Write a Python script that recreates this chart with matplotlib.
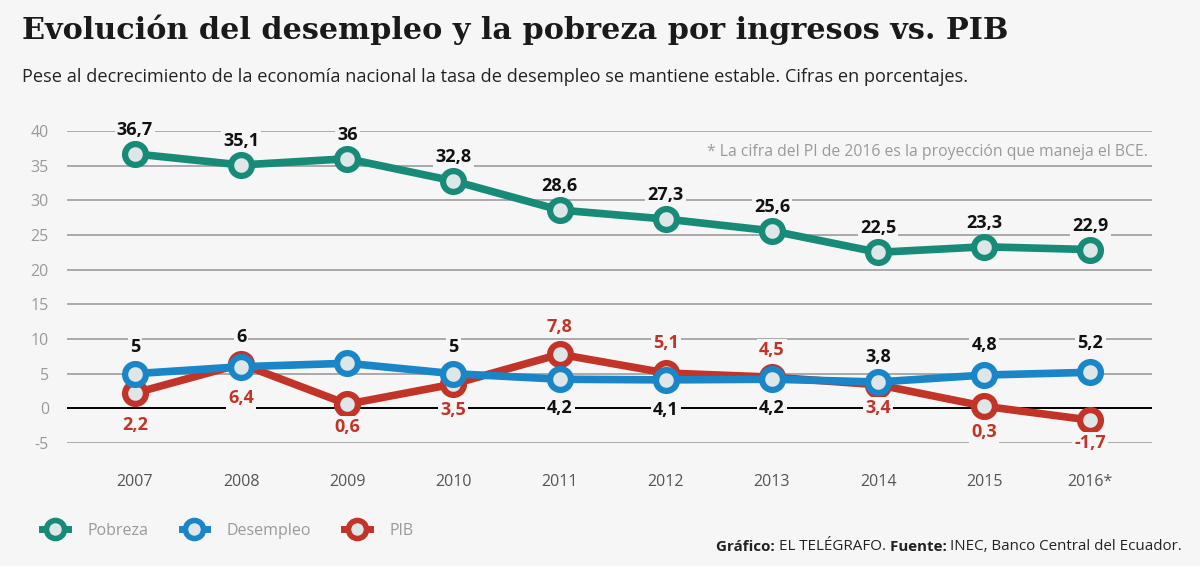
import matplotlib
matplotlib.use("Agg")
import matplotlib.pyplot as plt
from matplotlib.lines import Line2D

years = ["2007", "2008", "2009", "2010", "2011", "2012", "2013", "2014", "2015", "2016*"]
pobreza = [36.7, 35.1, 36.0, 32.8, 28.6, 27.3, 25.6, 22.5, 23.3, 22.9]
desempleo = [5.0, 6.0, 6.5, 5.0, 4.2, 4.1, 4.2, 3.8, 4.8, 5.2]
pib = [2.2, 6.4, 0.6, 3.5, 7.8, 5.1, 4.5, 3.4, 0.3, -1.7]
desempleo_shown = [True, True, False, True, True, True, True, True, True, True]
yticks = [-5, 0, 5, 10, 15, 20, 25, 30, 35, 40]

# label offsets (pixels, +down)
pob_off = [-24] * 10
des_off = [-27, -30, 0, -27, 29, 30, 29, -25, -30, -29]
pib_off = [32, 34, 23, 26, -27, -30, -27, 23, 26, 23]

BG = "#f6f6f6"
TEAL = "#178a78"
BLUE = "#1a86c8"
RED = "#c23328"
FILL = "#dfe6e8"

W, H = 1200, 566
fig = plt.figure(figsize=(12, 5.66), dpi=100, facecolor=BG)

ax_l, ax_r = 67 / W, 1152 / W
ax_b, ax_t = 1 - 443 / H, 1 - 131 / H
ax = fig.add_axes([ax_l, ax_b, ax_r - ax_l, ax_t - ax_b])
ax.set_facecolor(BG)
ax.set_xlim(-0.64, 9.58)
ax.set_ylim(-5, 40)
for s in ax.spines.values():
    s.set_visible(False)
ax.set_yticks(yticks)
ax.set_yticklabels([str(v) for v in yticks], fontsize=11.5, color="#9a9a9a", family="Open Sans")
ax.tick_params(axis="y", length=0, pad=13)
ax.set_xticks(range(len(years)))
ax.set_xticklabels(years, fontsize=11.5, color="#555555", family="Open Sans")
ax.tick_params(axis="x", length=0, pad=22)
for v in yticks:
    ax.axhline(v, color="#000000" if v == 0 else "#a3a3a3", lw=1.4 if v == 0 else 1.3, zorder=1)

x = list(range(len(years)))
mk = dict(marker="o", markersize=15, markerfacecolor=FILL, markeredgewidth=4.5, lw=5.5, solid_capstyle="round", solid_joinstyle="round")
ax.plot(x, pib, color=RED, markeredgecolor=RED, zorder=3, **mk)
ax.plot(x, desempleo, color=BLUE, markeredgecolor=BLUE, zorder=4, **mk)
ax.plot(x, pobreza, color=TEAL, markeredgecolor=TEAL, zorder=4, **mk)

def fmt(v):
    s = ("%.1f" % v).rstrip("0").rstrip(".")
    return s.replace(".", ",")

px2pt = 72 / 100
def lab(xi, v, off, color):
    ax.annotate(fmt(v), (xi, v), xytext=(0, -off * px2pt), textcoords="offset points",
                ha="center", va="center", fontsize=13, fontweight="bold", color=color,
                family="Open Sans", zorder=6,
                bbox=dict(boxstyle="square,pad=0.12", fc=BG, ec="none"))

for i in x:
    lab(i, pobreza[i], pob_off[i], "#111111")
    if desempleo_shown[i]:
        lab(i, desempleo[i], des_off[i], "#111111")
    lab(i, pib[i], pib_off[i], RED)

ax.text(1148 / W, 1 - 152 / H, "* La cifra del PI de 2016 es la proyección que maneja el BCE.",
        transform=fig.transFigure, ha="right", va="center", fontsize=11.3, color="#9a9a9a",
        family="Open Sans", bbox=dict(boxstyle="square,pad=0.15", fc=BG, ec="none"), zorder=7)

fig.text(22 / W, 1 - 30 / H, "Evolución del desempleo y la pobreza por ingresos vs. PIB",
         ha="left", va="center", fontsize=21.8, fontweight="bold", family="DejaVu Serif", color="#1a1a1a")
fig.text(22 / W, 1 - 77 / H, "Pese al decrecimiento de la economía nacional la tasa de desempleo se mantiene estable. Cifras en porcentajes.",
         ha="left", va="center", fontsize=13.1, family="Open Sans", color="#222222")

# legend
handles = [Line2D([], [], color=c, marker="o", markersize=13, markerfacecolor=FILL,
                  markeredgecolor=c, markeredgewidth=4, lw=5) for c in (TEAL, BLUE, RED)]
fig.legend(handles, ["Pobreza", "Desempleo", "PIB"], loc="center left",
           bbox_to_anchor=(28 / W, 1 - 531 / H), ncol=3, frameon=False,
           handlelength=1.6, columnspacing=2.1, handletextpad=1.2,
           prop=dict(family="Open Sans", size=11.5), labelcolor="#9a9a9a")

# source line, drawn right to left
parts = [("Gráfico: ", True), ("EL TELÉGRAFO. ", False), ("Fuente: ", True), ("INEC, Banco Central del Ecuador.", False)]
fig.canvas.draw()
r = fig.canvas.get_renderer()
xr = 1182
for txt, bold in reversed(parts):
    t = fig.text(xr / W, 1 - 547 / H, txt, ha="right", va="center", fontsize=10.9,
                 fontweight="bold" if bold else "normal", family="Open Sans", color="#222222")
    bb = t.get_window_extent(renderer=r)
    xr -= bb.width

fig.savefig("out.png", dpi=100, facecolor=BG)
